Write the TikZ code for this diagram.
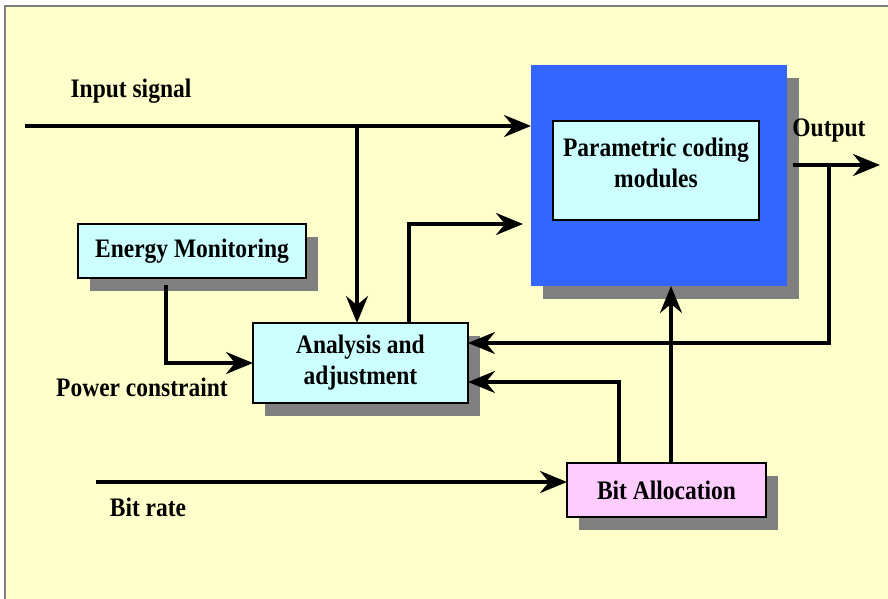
\documentclass[tikz,border=0pt]{standalone}
\usepackage{fontspec}
\setmainfont{Liberation Serif}[FakeStretch=0.88]
\usetikzlibrary{arrows.meta,shadows,calc}
\definecolor{bgyellow}{HTML}{FFFFCC}
\definecolor{boxcyan}{HTML}{CCFFFF}
\definecolor{boxpink}{HTML}{FFCCFF}
\definecolor{bigblue}{HTML}{3366FF}
\definecolor{shadowgray}{HTML}{808080}
\begin{document}
\begin{tikzpicture}[x=1pt,y=-1pt,
  font=\fontsize{26.7pt}{31pt}\selectfont\bfseries,
  >={Stealth[length=27pt,width=22pt,inset=9pt]},
  blk/.style={draw=black,line width=1.6pt,inner sep=0pt,outer sep=0pt,align=center},
  sh/.style={general shadow={fill=shadowgray,shadow xshift=12pt,shadow yshift=-13pt}},
  thickln/.style={line width=4pt},
  thinln/.style={line width=3.3pt},
  lbl/.style={inner sep=0pt}]
\useasboundingbox (0,0) rectangle (888,599);
\draw[fill=bgyellow,draw=shadowgray,line width=1.2pt] (5,6) rectangle (892,604);

% blocks
\node[sh,fill=bigblue,draw=none,inner sep=0pt,outer sep=0pt,minimum width=256pt,minimum height=221pt] (blue) at (659,175.5) {};
\node[blk,fill=boxcyan,minimum width=206pt,minimum height=99pt,
  label={[lbl,align=center,yshift=8pt]center:Parametric coding\\modules}] (pcm) at (656,170.5) {};
\node[blk,sh,fill=boxcyan,minimum width=228pt,minimum height=54pt] (em) at (192,251) {Energy Monitoring};
\node[blk,sh,fill=boxcyan,minimum width=215pt,minimum height=80pt] (ana) at (360.5,363) {Analysis and\\adjustment};
\node[blk,sh,fill=boxpink,minimum width=199pt,minimum height=54pt] (bit) at (666.5,490) {Bit Allocation};

% labels
\node[lbl] (linput) at (131,91) {Input signal};
\node[lbl] (loutput) at (829,131) {Output};
\node[lbl] (lpower) at (142,387) {Power constraint};
\node[lbl] (lbitrate) at (148,507) {Bit rate};

% coordinates
\coordinate (in) at (25,126);
\coordinate (jin) at (357,126);
\coordinate (tipA) at (523,224);
\coordinate (outs) at (793,165);
\coordinate (oute) at (880,165);
\coordinate (jout) at (829,165);
\coordinate (br) at (96,482);
\coordinate (bitA) at ($(bit.north)+(-47.5,0)$);
\coordinate (bitB) at ($(bit.north)+(4.5,0)$);
\coordinate (anaA) at ($(ana.north)+(48.5,0)$);
\coordinate (emA) at ($(em.south)+(-26,7)$);

% connectors
\draw[thickln,->] (in) -- (in -| blue.west);
\draw[thinln,->] (jin) -- (jin |- ana.north);
\draw[thinln,->] (anaA) |- (tipA);
\draw[thinln,->] (emA) |- (ana.west);
\draw[thickln,->] (outs) -- (oute);
\draw[thinln,->] (jout) |- ($(ana.east)+(0,-20)$);
\draw[thickln,->] (br) -- (br -| bit.west);
\draw[thinln,->] (bitA) |- ($(ana.east)+(0,19)$);
\draw[thinln,->] (bitB) -- (bitB |- blue.south);
\end{tikzpicture}
\end{document}
